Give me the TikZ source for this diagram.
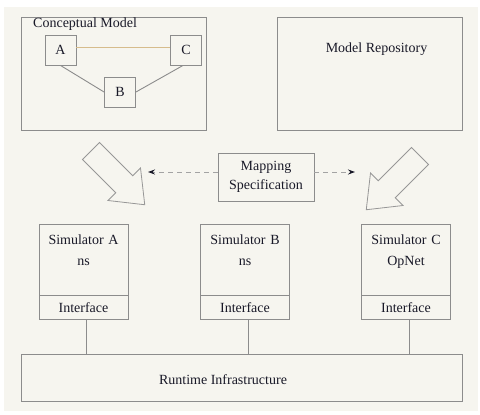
\documentclass[tikz,border=0pt]{standalone}
\usepackage{fontspec}
\setmainfont{Liberation Serif}
\usetikzlibrary{arrows.meta,calc}

\definecolor{paper}{RGB}{246,245,239}
\definecolor{edge}{RGB}{140,140,140}
\definecolor{tanline}{RGB}{214,188,140}
\definecolor{ink}{RGB}{25,25,40}

\tikzset{
  box/.style={draw=edge, line width=0.9pt, inner sep=2pt, align=center},
  wire/.style={draw=edge, line width=0.9pt},
  mapto/.style={draw=edge!80, line width=1pt, dash pattern=on 5pt off 4pt,
    -{Stealth[ink,length=7pt,width=5pt]}},
  fatarrow/.style={draw=edge!90, line width=0.8pt, line join=miter},
}

\begin{document}
\begin{tikzpicture}[x=1pt,y=-1pt,font=\fontsize{14}{16}\selectfont,text=ink]
\useasboundingbox (0,0) rectangle (480,415);
\fill[paper] (4,7) rectangle (478,411);

% conceptual model
\node[box, minimum width=185, minimum height=113] (cmodel) at (113.5,73.5) {};
\node[anchor=west, inner sep=0] (cmtitle) at (33,24) {Conceptual Model};
\node[box, minimum width=31, minimum height=30] (A) at (60.5,50) {A};
\node[box, minimum width=31, minimum height=30] (C) at (186,50) {C};
\node[box, minimum width=31, minimum height=30] (B) at (120,92) {B};
\draw[tanline, line width=0.9pt] ([yshift=3]A.east) -- ([yshift=3]C.west);
\draw[wire] (A.south) -- (B.west);
\draw[wire] ([xshift=-3]C.south) -- (B.east);

% repository
\node[box, minimum width=185, minimum height=113] (repo) at (369.5,73.5) {};
\node (repotext) at (376.5,49) {Model Repository};

% mapping
\node[box, minimum width=96, minimum height=48, text width=90] (map) at (266,177)
  {Mapping\\[3pt]Specification};
\coordinate (mapL) at (148,172);
\coordinate (mapR) at (355,172);
\draw[mapto] ([yshift=5]map.west) -- (mapL);
\draw[mapto] ([yshift=5]map.east) -- (mapR);

% big hollow arrows
\draw[fatarrow, shift={(91,151)}, rotate=-45]
  (0,-12) -- (47,-12) -- (47,-23) -- (76,0) -- (47,23) -- (47,12) -- (0,12) -- cycle;
\draw[fatarrow, shift={(420,156)}, rotate=-135]
  (0,-12) -- (47,-12) -- (47,-23) -- (76,0) -- (47,23) -- (47,12) -- (0,12) -- cycle;

% simulators
\foreach \n/\x/\tool in {A/83.5/ns, B/245/ns, C/406/OpNet} {
  \node[box, minimum width=89, minimum height=71, text width=85] (sim\n) at (\x,259.5)
    {Simulator \n\\[5pt]\tool\\[3pt]\mbox{}};
  \node[box, minimum width=89, minimum height=24, anchor=north] (if\n) at (sim\n.south)
    {Interface};
}

% runtime infrastructure
\node[box, minimum width=441, minimum height=47] (rti) at (241.5,377.5) {};
\node (rtitext) at (223,380) {Runtime Infrastructure};
\foreach \n in {A,B,C}
  \draw[wire] ([xshift=3]if\n.south) -- ([xshift=3]if\n.south |- rti.north);
\end{tikzpicture}
\end{document}
